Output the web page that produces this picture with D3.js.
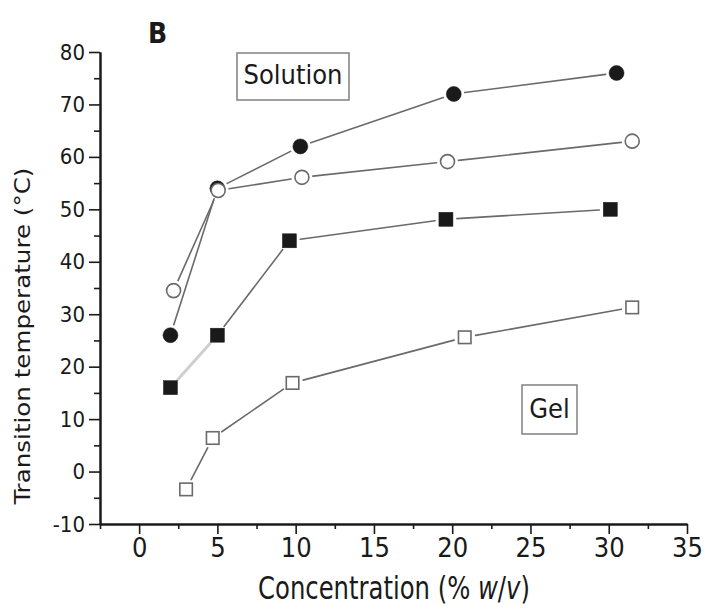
<!DOCTYPE html>
<html>
<head>
<meta charset="utf-8">
<script src="https://cdn.jsdelivr.net/npm/d3@7"></script>
<style>
  html, body { margin: 0; padding: 0; background: #fff; }
  svg { display: block; }
  text { font-family: "DejaVu Sans Condensed", "DejaVu Sans", sans-serif; fill: #1a1a1a; }
</style>
</head>
<body>
<svg id="chart" width="705" height="614"></svg>
<script>
// ---- data ----
const concFilledCircle = [2.0, 5.0, 10.3, 20.1, 30.5];
const tempFilledCircle = [26.0, 54.0, 62.0, 72.0, 76.0];
const concOpenCircle   = [2.2, 5.05, 10.4, 19.7, 31.5];
const tempOpenCircle   = [34.5, 53.6, 56.1, 59.1, 63.0];
const concFilledSquare = [2.0, 5.0, 9.6, 19.6, 30.1];
const tempFilledSquare = [16.0, 26.0, 44.0, 48.1, 50.0];
const concOpenSquare   = [3.0, 4.7, 9.8, 20.8, 31.5];
const tempOpenSquare   = [-3.4, 6.4, 16.9, 25.6, 31.3];

const xTickValues = [0, 5, 10, 15, 20, 25, 30, 35];
const xMinorTicks = [-2.5, 2.5, 7.5, 12.5, 17.5, 22.5, 27.5, 32.5];
const yTickValues = [-10, 0, 10, 20, 30, 40, 50, 60, 70, 80];
const yMinorTicks = [-5, 5, 15, 25, 35, 45, 55, 65, 75];

const panelLabel = "B";
const regionLabels = ["Solution", "Gel"];
const xAxisTitle = ["Concentration (% ", "w", "/", "v", ")"];
const yAxisTitle = "Transition temperature (°C)";

// ---- build ----
const svg = d3.select("#chart");
const x = d3.scaleLinear().domain([-2.5, 35]).range([100, 687]);
const y = d3.scaleLinear().domain([-10, 80]).range([524, 52]);

const series = [
  { xs: concFilledCircle, ys: tempFilledCircle, shape: "circle", filled: true },
  { xs: concOpenCircle,   ys: tempOpenCircle,   shape: "circle", filled: false },
  { xs: concFilledSquare, ys: tempFilledSquare, shape: "square", filled: true, faintFirst: true },
  { xs: concOpenSquare,   ys: tempOpenSquare,   shape: "square", filled: false }
].map(s => ({ ...s, pts: s.xs.map((v, i) => [v, s.ys[i]]) }));

// axes
const axisColor = "#1a1a1a";
function styleAxis(g, fontSize) {
  g.select(".domain").attr("stroke", axisColor).attr("stroke-width", 2);
  g.selectAll(".tick line").attr("stroke", axisColor).attr("stroke-width", 1.6);
  g.selectAll(".tick text").attr("font-size", fontSize)
    .attr("font-family", '"DejaVu Sans Condensed", "DejaVu Sans", sans-serif')
    .attr("fill", "#1a1a1a");
}
const plainFmt = d => String(d);

const gyMinor = svg.append("g").attr("transform", "translate(100,0)")
  .call(d3.axisLeft(y).tickValues(yMinorTicks).tickSize(6).tickSizeOuter(0).tickFormat(""));
styleAxis(gyMinor, 0);
const gy = svg.append("g").attr("transform", "translate(100,0)")
  .call(d3.axisLeft(y).tickValues(yTickValues).tickSize(11).tickSizeOuter(0).tickPadding(4).tickFormat(plainFmt));
styleAxis(gy, 22);

const gxMinor = svg.append("g").attr("transform", "translate(0,524)")
  .call(d3.axisBottom(x).tickValues(xMinorTicks).tickSize(5).tickSizeOuter(0).tickFormat(""));
styleAxis(gxMinor, 0);
const gx = svg.append("g").attr("transform", "translate(0,524)")
  .call(d3.axisBottom(x).tickValues(xTickValues).tickSize(10).tickSizeOuter(0).tickPadding(4).tickFormat(plainFmt));
styleAxis(gx, 27);

// lines (segments shortened so they stop before the markers)
const gap = 11;
const lineG = svg.append("g");
series.forEach(s => {
  for (let i = 0; i < s.pts.length - 1; i++) {
    const x1 = x(s.pts[i][0]), y1 = y(s.pts[i][1]);
    const x2 = x(s.pts[i + 1][0]), y2 = y(s.pts[i + 1][1]);
    const len = Math.hypot(x2 - x1, y2 - y1);
    const ux = (x2 - x1) / len, uy = (y2 - y1) / len;
    const faint = s.faintFirst && i === 0;
    lineG.append("line")
      .attr("x1", x1 + ux * gap).attr("y1", y1 + uy * gap)
      .attr("x2", x2 - ux * gap).attr("y2", y2 - uy * gap)
      .attr("stroke", faint ? "#cfcfcf" : "#6a6a6a")
      .attr("stroke-width", faint ? 3 : 1.6)
      .attr("stroke-linecap", "round");
  }
});

// markers
const markG = svg.append("g");
series.forEach(s => {
  const g = markG.append("g");
  if (s.shape === "circle") {
    g.selectAll("circle").data(s.pts).join("circle")
      .attr("cx", d => x(d[0])).attr("cy", d => y(d[1]))
      .attr("r", s.filled ? 7.5 : 7)
      .attr("fill", s.filled ? "#1a1a1a" : "#ffffff")
      .attr("stroke", s.filled ? "#1a1a1a" : "#6a6a6a")
      .attr("stroke-width", s.filled ? 0.5 : 1.6);
  } else {
    const side = s.filled ? 14 : 12.5;
    g.selectAll("rect").data(s.pts).join("rect")
      .attr("x", d => x(d[0]) - side / 2).attr("y", d => y(d[1]) - side / 2)
      .attr("width", side).attr("height", side)
      .attr("fill", s.filled ? "#1a1a1a" : "#ffffff")
      .attr("stroke", s.filled ? "#1a1a1a" : "#6a6a6a")
      .attr("stroke-width", s.filled ? 0.5 : 1.6);
  }
});

// panel label
svg.append("text").attr("x", 148).attr("y", 43)
  .attr("font-size", 28).attr("font-weight", "bold")
  .attr("font-family", '"DejaVu Sans", sans-serif')
  .text(panelLabel);

// region label boxes
function labelBox(txt, x0, y0, x1, y1, baseline, fs) {
  svg.append("rect").attr("x", x0).attr("y", y0)
    .attr("width", x1 - x0).attr("height", y1 - y0)
    .attr("fill", "#fff").attr("stroke", "#808080").attr("stroke-width", 1.5);
  svg.append("text").attr("x", (x0 + x1) / 2).attr("y", baseline)
    .attr("text-anchor", "middle").attr("font-size", fs).text(txt);
}
labelBox(regionLabels[0], 237, 53, 349, 100, 84, 27);
labelBox(regionLabels[1], 522, 385, 577, 434, 418, 27);

// fit helper: scale text horizontally to target length
function fitWidth(sel, target) {
  const w = sel.node().getComputedTextLength();
  return w > 0 ? target / w : 1;
}

// x axis title
const xt = svg.append("text").attr("font-size", 27).attr("text-anchor", "middle");
xAxisTitle.forEach((part, i) => {
  xt.append("tspan").attr("font-style", (i === 1 || i === 3) ? "italic" : "normal").text(part);
});
const sx = fitWidth(xt, 272);
xt.attr("transform", `translate(394,599) scale(${sx},1.15)`);

// y axis title
const yt = svg.append("text").attr("font-size", 21).attr("text-anchor", "middle").text(yAxisTitle);
const sy = fitWidth(yt, 337);
yt.attr("transform", `translate(30,336) rotate(-90) scale(${sy},1)`);
</script>
</body>
</html>
